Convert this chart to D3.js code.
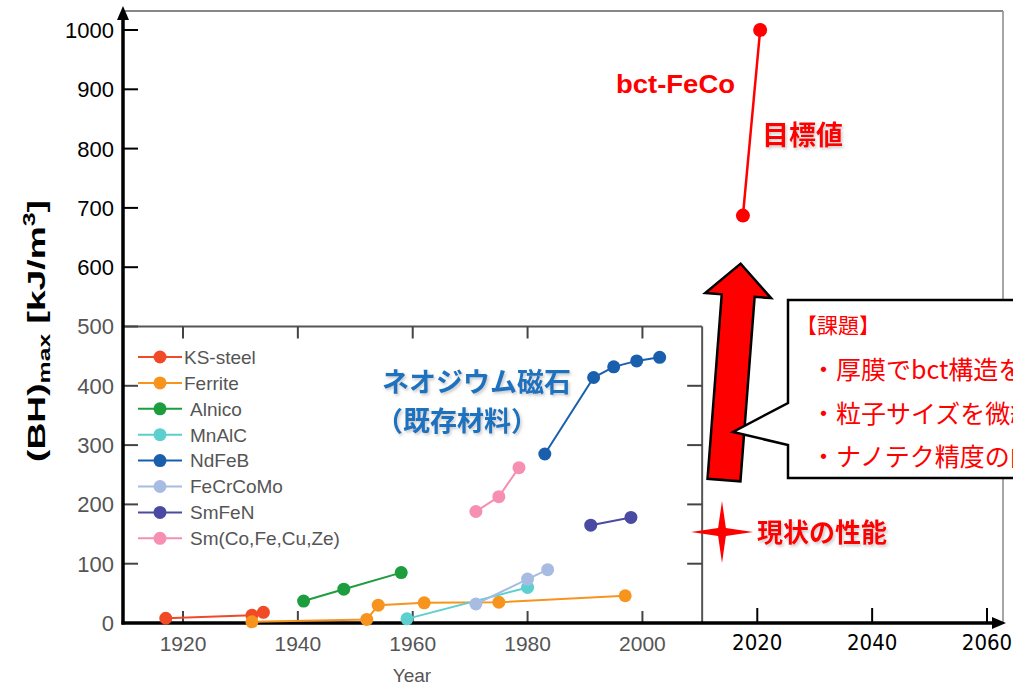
<!DOCTYPE html>
<html>
<head>
<meta charset="utf-8">
<script src="https://cdn.jsdelivr.net/npm/d3@7"></script>
<style>
  html, body { margin: 0; padding: 0; background: #fff; }
  svg { display: block; }
</style>
</head>
<body>
<div id="chart"></div>
<script>
// 系列データ [年, (BH)max]
const seriesNames = ["KS-steel", "Ferrite", "Alnico", "MnAlC", "NdFeB", "FeCrCoMo", "SmFeN", "Sm(Co,Fe,Cu,Ze)"];
const seriesColors = ["#f04b26", "#f7941d", "#1e9d3f", "#5ccfcf", "#1a5fad", "#a8bce2", "#4a4aa2", "#f68fb2"];
const ksSteel = [[1917, 8], [1932, 13], [1934, 18]];
const ferrite = [[1932, 2], [1952, 6], [1954, 30], [1962, 34], [1975, 35], [1997, 46]];
const alnico = [[1941, 37], [1948, 57], [1958, 85]];
const mnAlC = [[1959, 7], [1980, 60]];
const ndFeB = [[1983, 285], [1991.5, 414], [1995, 432], [1999, 442], [2003, 448]];
const feCrCoMo = [[1971, 32], [1980, 74], [1983.5, 90]];
const smFeN = [[1991, 165], [1998, 178]];
const smCo = [[1971, 188], [1975, 213], [1978.5, 262]];
const bctFeCo = [[2017.5, 687], [2020.5, 1000]];

const insetYears = [1920, 1940, 1960, 1980, 2000];
const mainYears = [2020, 2040, 2060];
const upperTicks = [600, 700, 800, 900, 1000];
const lowerTicks = [0, 100, 200, 300, 400, 500];

const allSeries = [ksSteel, ferrite, alnico, mnAlC, ndFeB, feCrCoMo, smFeN, smCo];

const width = 1013, height = 686;
const latin = "Liberation Sans, Arial, sans-serif";
const jp = "Noto Sans CJK JP, sans-serif";

const svg = d3.select("#chart").append("svg")
  .attr("width", width).attr("height", height);

const defs = svg.append("defs");
const sh = defs.append("filter").attr("id", "shadow")
  .attr("x", "-20%").attr("y", "-40%").attr("width", "140%").attr("height", "180%");
sh.append("feDropShadow").attr("dx", 1.5).attr("dy", 2).attr("stdDeviation", 1.5)
  .attr("flood-color", "#888").attr("flood-opacity", 0.45);

// スケール
const xScale = d3.scaleLinear().domain([1920, 2060]).range([183, 987]);
const yScale = d3.scaleLinear().domain([0, 1000]).range([623, 30]);

const x0 = 123, y0 = yScale(0);
const insetRight = xScale(2010.4), insetTop = yScale(500);

// 外枠
svg.append("line").attr("x1", x0).attr("x2", 1003).attr("y1", 11).attr("y2", 11)
  .attr("stroke", "#111").attr("stroke-width", 1.2);
svg.append("line").attr("x1", 1003).attr("x2", 1003).attr("y1", 11).attr("y2", y0)
  .attr("stroke", "#888").attr("stroke-width", 1.5);

// インセット枠
svg.append("line").attr("x1", x0).attr("x2", insetRight).attr("y1", insetTop).attr("y2", insetTop)
  .attr("stroke", "#555").attr("stroke-width", 2);
svg.append("line").attr("x1", insetRight).attr("x2", insetRight).attr("y1", insetTop).attr("y2", y0)
  .attr("stroke", "#555").attr("stroke-width", 2);

// インセットの目盛り
insetYears.forEach(yr => {
  svg.append("line").attr("x1", xScale(yr)).attr("x2", xScale(yr)).attr("y1", y0).attr("y2", y0 - 12)
    .attr("stroke", "#444").attr("stroke-width", 2);
  svg.append("line").attr("x1", xScale(yr)).attr("x2", xScale(yr)).attr("y1", insetTop).attr("y2", insetTop + 12)
    .attr("stroke", "#444").attr("stroke-width", 2);
  svg.append("text").attr("x", xScale(yr)).attr("y", 651)
    .attr("text-anchor", "middle").attr("font-family", latin)
    .attr("font-size", 21).attr("fill", "#555").text(yr);
});
lowerTicks.filter(v => v > 0).forEach(v => {
  svg.append("line").attr("x1", x0).attr("x2", x0 + 15).attr("y1", yScale(v)).attr("y2", yScale(v))
    .attr("stroke", "#444").attr("stroke-width", 2);
  if (v < 500) {
    svg.append("line").attr("x1", insetRight).attr("x2", insetRight - 15).attr("y1", yScale(v)).attr("y2", yScale(v))
      .attr("stroke", "#444").attr("stroke-width", 2);
  }
});
lowerTicks.forEach(v => {
  svg.append("text").attr("x", 114).attr("y", yScale(v)).attr("dy", "0.36em")
    .attr("text-anchor", "end").attr("font-family", latin)
    .attr("font-size", 22).attr("fill", "#555").text(v);
});

// 上側の目盛り
upperTicks.forEach(v => {
  svg.append("line").attr("x1", x0).attr("x2", x0 + 15).attr("y1", yScale(v)).attr("y2", yScale(v))
    .attr("stroke", "#000").attr("stroke-width", 2);
  svg.append("text").attr("x", 114).attr("y", yScale(v)).attr("dy", "0.36em")
    .attr("text-anchor", "end").attr("font-family", latin)
    .attr("font-size", 22).attr("fill", "#000").text(v);
});
mainYears.forEach(yr => {
  svg.append("line").attr("x1", xScale(yr)).attr("x2", xScale(yr)).attr("y1", y0).attr("y2", y0 - 15)
    .attr("stroke", "#000").attr("stroke-width", 2);
  svg.append("text").attr("x", xScale(yr)).attr("y", 650)
    .attr("text-anchor", "middle").attr("font-family", "Liberation Sans Narrow, DejaVu Sans Condensed, sans-serif")
    .attr("font-size", 22).attr("fill", "#000").text(yr);
});

// 軸（矢印）
svg.append("line").attr("x1", x0).attr("x2", x0).attr("y1", y0 + 1.5).attr("y2", 18)
  .attr("stroke", "#000").attr("stroke-width", 3.5);
svg.append("path").attr("d", `M${x0 - 6},20 L${x0},6 L${x0 + 6},20 Z`).attr("fill", "#000");
svg.append("line").attr("x1", x0 - 1.5).attr("x2", 994).attr("y1", y0).attr("y2", y0)
  .attr("stroke", "#000").attr("stroke-width", 3.5);
svg.append("path").attr("d", `M992,${y0 - 6} L1006,${y0} L992,${y0 + 6} Z`).attr("fill", "#000");

// 軸ラベル
svg.append("text").attr("x", 412).attr("y", 682).attr("text-anchor", "middle")
  .attr("font-family", latin).attr("font-size", 19).attr("fill", "#555")
  .text("Year");

const yl = svg.append("text")
  .attr("text-anchor", "middle").attr("font-family", latin)
  .attr("font-size", 24).attr("font-weight", "bold").attr("fill", "#000");
yl.append("tspan").text("(BH)");
yl.append("tspan").attr("font-size", 16).attr("dy", 5).text("max");
yl.append("tspan").attr("dy", -5).text(" [kJ/m");
yl.append("tspan").attr("font-size", 16).attr("dy", -10).text("3");
yl.append("tspan").attr("dy", 10).text("]");
const ylw = yl.node().getBBox().width;
yl.attr("transform", `translate(45,331) rotate(-90) scale(${262 / ylw},1)`);

// 系列
const line = d3.line().x(d => xScale(d[0])).y(d => yScale(d[1]));
allSeries.forEach((s, i) => {
  svg.append("path").datum(s).attr("d", line).attr("fill", "none")
    .attr("stroke", seriesColors[i]).attr("stroke-width", 2);
  svg.selectAll(null).data(s).enter().append("circle")
    .attr("cx", d => xScale(d[0])).attr("cy", d => yScale(d[1])).attr("r", 6.5)
    .attr("fill", seriesColors[i]);
});

// bct-FeCo
svg.append("path").datum(bctFeCo).attr("d", line).attr("fill", "none")
  .attr("stroke", "#ff0000").attr("stroke-width", 2.5);
svg.selectAll(null).data(bctFeCo).enter().append("circle")
  .attr("cx", d => xScale(d[0])).attr("cy", d => yScale(d[1])).attr("r", 7)
  .attr("fill", "#ff0000");

// 凡例
seriesNames.forEach((name, i) => {
  const ly = 357 + i * 25.9;
  svg.append("line").attr("x1", 138).attr("x2", 182).attr("y1", ly).attr("y2", ly)
    .attr("stroke", seriesColors[i]).attr("stroke-width", 2);
  svg.append("circle").attr("cx", 160).attr("cy", ly).attr("r", 6.5).attr("fill", seriesColors[i]);
  svg.append("text").attr("x", i < 2 ? 184 : 190).attr("y", ly).attr("dy", "0.36em")
    .attr("font-family", latin).attr("font-size", 19)
    .attr("fill", "#555").text(name);
});

// ネオジウム磁石
svg.append("text").attr("x", 382).attr("y", 392).attr("font-family", jp)
  .attr("font-size", 27).attr("font-weight", "bold").attr("fill", "#1a72be").attr("filter", "url(#shadow)")
  .text("ネオジウム磁石");
svg.append("text").attr("x", 376).attr("y", 431).attr("font-family", jp)
  .attr("font-size", 27).attr("font-weight", "bold").attr("fill", "#1a72be").attr("filter", "url(#shadow)")
  .text("（既存材料）");

// bct-FeCo ラベル
svg.append("text").attr("x", 616).attr("y", 93).attr("font-family", latin)
  .attr("font-size", 26).attr("font-weight", "bold").attr("fill", "#ff0000")
  .attr("textLength", 119).attr("lengthAdjust", "spacingAndGlyphs").text("bct-FeCo");
svg.append("text").attr("x", 762).attr("y", 145).attr("font-family", jp)
  .attr("font-size", 27).attr("font-weight", "bold").attr("fill", "#ff0000").attr("filter", "url(#shadow)")
  .text("目標値");

// 大きな矢印
const base = [xScale(2014.2), yScale(241)], tip = [xScale(2017.1), yScale(606)];
const dx = tip[0] - base[0], dy = tip[1] - base[1], len = Math.hypot(dx, dy);
const ux = dx / len, uy = dy / len, px = -uy, py = ux;
const shaftW = 16.5, headW = 33, headL = 32;
const neck = [tip[0] - ux * headL, tip[1] - uy * headL];
const pt = (c, s) => [c[0] + px * s, c[1] + py * s];
const arrowPts = [pt(base, -shaftW), pt(neck, -shaftW), pt(neck, -headW), tip, pt(neck, headW), pt(neck, shaftW), pt(base, shaftW)];
svg.append("polygon").attr("points", arrowPts.map(p => p.join(",")).join(" "))
  .attr("fill", "#ff0000").attr("stroke", "#000").attr("stroke-width", 2.5).attr("stroke-linejoin", "miter");

// 吹き出し（右端で切れている）
const bx = 788, by = 300, bh = 178;
svg.append("path")
  .attr("d", `M${bx},${by} L1030,${by} L1030,${by + bh} L${bx},${by + bh} L${bx},445 L733,432 L${bx},403 Z`)
  .attr("fill", "#fff").attr("stroke", "#000").attr("stroke-width", 2.5);
const calloutLines = ["【課題】", "・厚膜でbct構造を実現", "・粒子サイズを微細化", "・ナノテク精度の向上"];
calloutLines.forEach((t, i) => {
  svg.append("text").attr("x", i === 0 ? 796 : 811).attr("y", i === 0 ? 333 : 379 + (i - 1) * 43.5)
    .attr("font-family", jp).attr("font-size", i === 0 ? 21 : 25)
    .attr("fill", "#ff0000").text(t);
});

// 現状の性能（星）
const sx = 722, sy = 532, R = 31, r = 5.5;
const starPts = d3.range(8).map(k => {
  const a = -Math.PI / 2 + k * Math.PI / 4, rr = k % 2 === 0 ? R : r;
  return [sx + rr * Math.cos(a), sy + rr * Math.sin(a)];
});
svg.append("polygon").attr("points", starPts.map(p => p.join(",")).join(" ")).attr("fill", "#ff0000");
svg.append("text").attr("x", 757).attr("y", 542).attr("font-family", jp)
  .attr("font-size", 26).attr("font-weight", "bold").attr("fill", "#ff0000").attr("filter", "url(#shadow)")
  .text("現状の性能");
</script>
</body>
</html>
